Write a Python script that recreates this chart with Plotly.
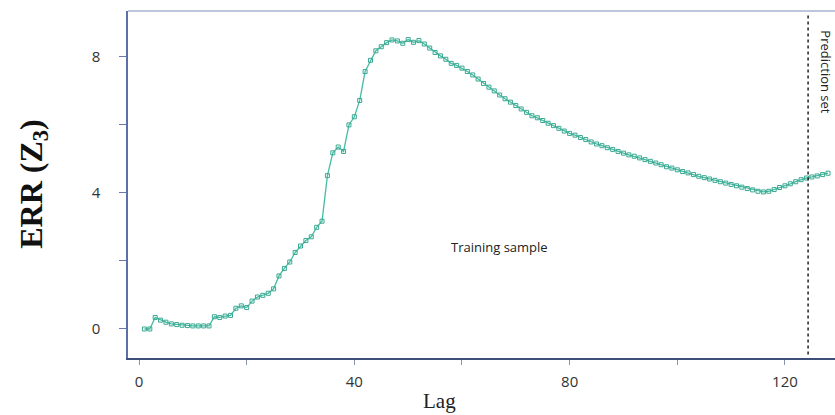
import plotly.graph_objects as go

lag = list(range(1, 129))
err = [
    0.00, 0.00, 0.34, 0.26, 0.20, 0.15, 0.13, 0.11, 0.10, 0.09,
    0.09, 0.09, 0.09, 0.36, 0.34, 0.38, 0.40, 0.61, 0.68, 0.63,
    0.82, 0.94, 0.99, 1.05, 1.18, 1.56, 1.78, 1.97, 2.25, 2.44,
    2.60, 2.71, 2.99, 3.17, 4.51, 5.18, 5.35, 5.22, 6.00, 6.24,
    6.72, 7.57, 7.90, 8.18, 8.30, 8.42, 8.50, 8.47, 8.40, 8.51,
    8.43, 8.48, 8.38, 8.26, 8.13, 8.03, 7.93, 7.81, 7.75, 7.67,
    7.57, 7.47, 7.35, 7.22, 7.11, 7.00, 6.88, 6.77, 6.67, 6.57,
    6.47, 6.37, 6.27, 6.21, 6.13, 6.05, 5.98, 5.90, 5.82, 5.75,
    5.70, 5.63, 5.57, 5.50, 5.44, 5.39, 5.33, 5.28, 5.22, 5.17,
    5.12, 5.08, 5.03, 4.98, 4.93, 4.88, 4.83, 4.77, 4.73, 4.68,
    4.63, 4.59, 4.54, 4.49, 4.45, 4.41, 4.37, 4.33, 4.29, 4.25,
    4.21, 4.17, 4.13, 4.09, 4.05, 4.03, 4.05, 4.10, 4.16, 4.21,
    4.27, 4.33, 4.39, 4.44, 4.47, 4.50, 4.54, 4.58,
]
x_ticks = [0, 20, 40, 60, 80, 100, 120]
x_tick_labels = ["0", "", "40", "", "80", "", "120"]
y_ticks = [0, 2, 4, 6, 8]
y_tick_labels = ["0", "", "4", "", "8"]
prediction_start = 124.3

fig = go.Figure()
fig.add_trace(go.Scatter(
    x=lag, y=err, mode="lines+markers",
    line=dict(color="#45bda6", width=1.3),
    marker=dict(symbol="square-open", size=4, color="#3aa890", line=dict(width=1)),
    showlegend=False,
))

fig.add_shape(type="line", xref="x", yref="paper", x0=prediction_start, x1=prediction_start,
              y0=0.01, y1=0.995, line=dict(color="#222222", width=1.5, dash="dot"))
fig.add_shape(type="line", xref="paper", yref="paper", x0=0, x1=1, y0=1, y1=1,
              line=dict(color="#a8b2d0", width=1.5))

fig.add_annotation(x=67, y=2.4, xref="x", yref="y", showarrow=False,
                   text="Training sample", font=dict(family="Open Sans, sans-serif", size=13, color="#222222"))
fig.add_annotation(x=127.6, y=7.55, xref="x", yref="y", showarrow=False, textangle=90,
                   xanchor="center", yanchor="middle",
                   text="Prediction set", font=dict(family="Open Sans, sans-serif", size=13, color="#222222"))
fig.add_annotation(x=0.44, y=-0.125, xref="paper", yref="paper", showarrow=False,
                   text="Lag", font=dict(family="Liberation Serif, Times New Roman, serif", size=21, color="#222222"),
                   xanchor="center", yanchor="middle")
fig.add_annotation(x=-0.134, y=0.5, xref="paper", yref="paper", showarrow=False, textangle=-90,
                   xanchor="center", yanchor="middle",
                   text="<b>ERR (Z<sub>3</sub>)</b>",
                   font=dict(family="Liberation Serif, Times New Roman, serif", size=32, color="#111111"))

fig.update_xaxes(range=[-2.05, 129.3], tickvals=x_ticks, ticktext=x_tick_labels,
                 showgrid=False, zeroline=False, showline=True, linecolor="#3d4f78", linewidth=1.5,
                 ticks="outside", ticklen=5, tickcolor="#8a94b0", tickwidth=1, ticklabelstandoff=4,
                 tickfont=dict(family="Open Sans, sans-serif", size=15, color="#333333"))
fig.update_yaxes(range=[-0.853, 9.35], tickvals=y_ticks, ticktext=y_tick_labels,
                 showgrid=False, zeroline=False, showline=True, linecolor="#5b6fa8", linewidth=1.5,
                 ticks="outside", ticklen=7, tickcolor="#6a7ab0", tickwidth=1, ticklabelstandoff=16,
                 tickfont=dict(family="Open Sans, sans-serif", size=15, color="#333333"))

fig.update_layout(width=835, height=415, margin=dict(l=128, r=0, t=11, b=57),
                  plot_bgcolor="white", paper_bgcolor="white")
fig.write_html("out.html")
